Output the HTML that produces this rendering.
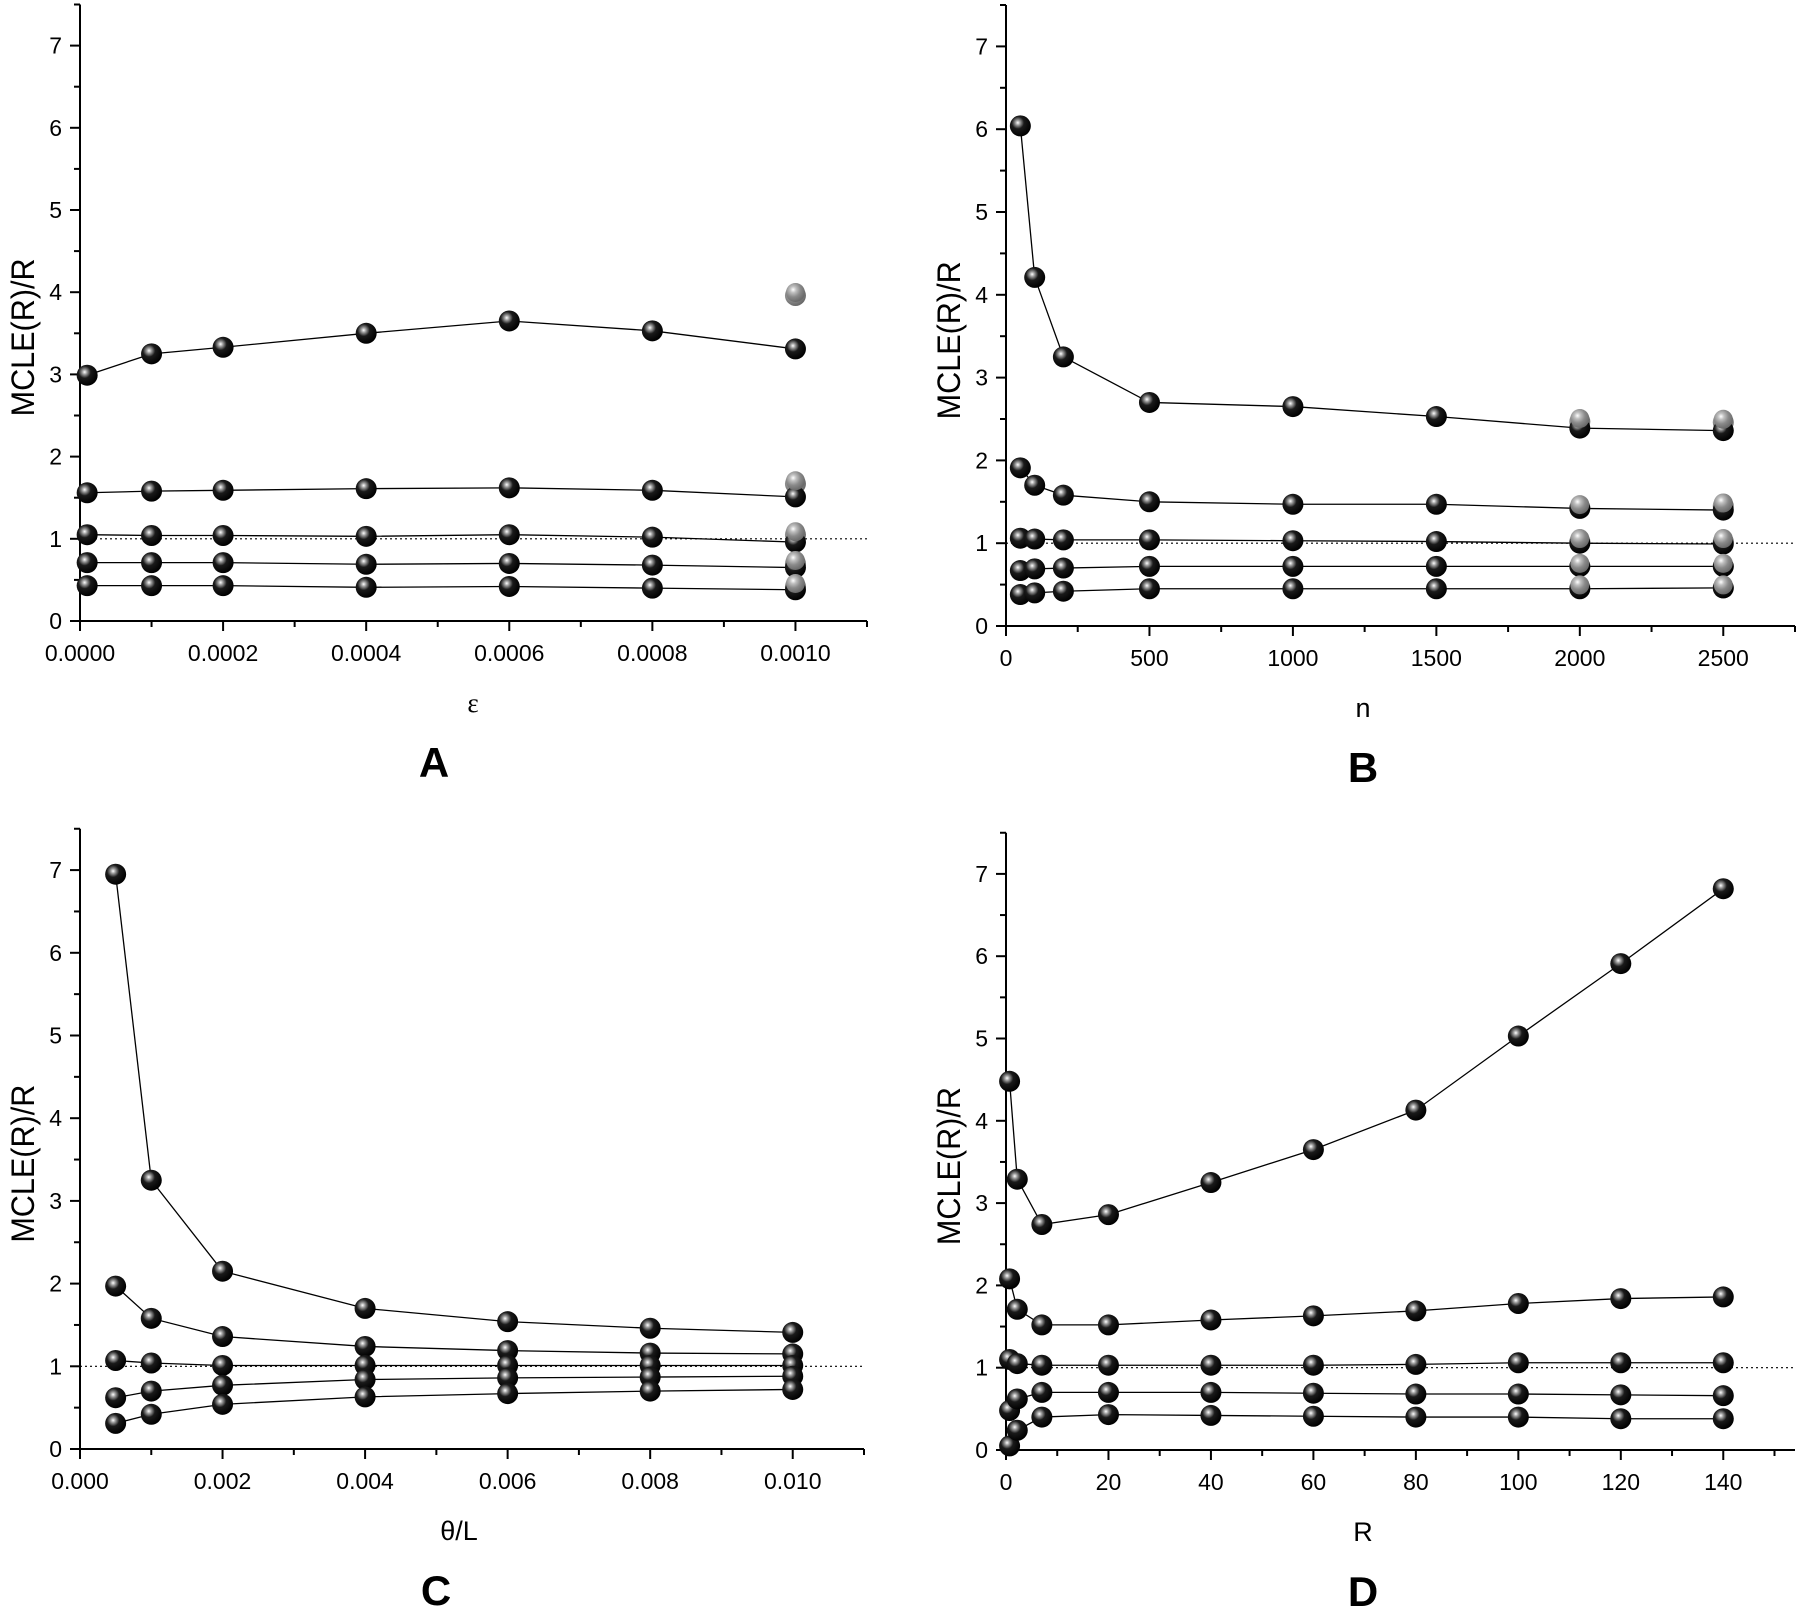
<!DOCTYPE html>
<html><head><meta charset="utf-8"><style>
html,body{margin:0;padding:0;background:#fff;}
svg{display:block;font-family:"Liberation Sans",sans-serif;}
</style></head><body>
<svg id="chart" width="1800" height="1610" viewBox="0 0 1800 1610">
<defs>
<radialGradient id="ball" cx="0.38" cy="0.35" r="0.65">
<stop offset="0" stop-color="#ffffff"/><stop offset="0.18" stop-color="#9a9a9a"/><stop offset="0.45" stop-color="#1a1a1a"/><stop offset="1" stop-color="#000"/>
</radialGradient>
<radialGradient id="gball" cx="0.38" cy="0.35" r="0.65">
<stop offset="0" stop-color="#ffffff"/><stop offset="0.25" stop-color="#c0c0c0"/><stop offset="0.6" stop-color="#8a8a8a"/><stop offset="1" stop-color="#6a6a6a"/>
</radialGradient>
</defs>
</svg>
<script>
// Panel A data
const aX = [0.00001,0.0001,0.0002,0.0004,0.0006,0.0008,0.001];
const aS1 = [2.99,3.25,3.33,3.50,3.65,3.53,3.31];
const aS2 = [1.56,1.58,1.59,1.61,1.62,1.59,1.51];
const aS3 = [1.05,1.04,1.04,1.03,1.05,1.02,0.96];
const aS4 = [0.71,0.71,0.71,0.69,0.70,0.68,0.65];
const aS5 = [0.43,0.43,0.43,0.41,0.42,0.40,0.38];
const aGrayX = [0.001,0.001,0.001,0.001,0.001];
const aGrayY = [3.96,1.67,1.05,0.70,0.42];
const aTicks = ["0.0000","0.0002","0.0004","0.0006","0.0008","0.0010"];
// Panel B data
const bX = [50,100,200,500,1000,1500,2000,2500];
const bS1 = [6.04,4.21,3.25,2.70,2.65,2.53,2.39,2.36];
const bS2 = [1.91,1.70,1.58,1.50,1.47,1.47,1.42,1.40];
const bS3 = [1.06,1.05,1.04,1.04,1.03,1.02,1.00,0.99];
const bS4 = [0.67,0.69,0.70,0.72,0.72,0.72,0.72,0.72];
const bS5 = [0.38,0.40,0.42,0.45,0.45,0.45,0.45,0.46];
const bGrayX = [2000,2500,2000,2500,2000,2500,2000,2500,2000,2500];
const bGrayY = [2.47,2.46,1.43,1.45,1.02,1.02,0.72,0.72,0.46,0.46];
const bTicks = ["0","500","1000","1500","2000","2500"];
// Panel C data
const cX = [0.0005,0.001,0.002,0.004,0.006,0.008,0.010];
const cS1 = [6.95,3.25,2.15,1.70,1.54,1.46,1.41];
const cS2 = [1.97,1.58,1.36,1.24,1.19,1.16,1.15];
const cS3 = [1.07,1.04,1.01,1.01,1.01,1.01,1.01];
const cS4 = [0.62,0.70,0.77,0.84,0.86,0.87,0.88];
const cS5 = [0.31,0.42,0.54,0.63,0.67,0.70,0.72];
const cTicks = ["0.000","0.002","0.004","0.006","0.008","0.010"];
// Panel D data
const dX = [0.7,2.2,7,20,40,60,80,100,120,140];
const dS1 = [4.48,3.29,2.74,2.86,3.25,3.65,4.13,5.03,5.91,6.82];
const dS2 = [2.08,1.71,1.52,1.52,1.58,1.63,1.69,1.78,1.84,1.86];
const dS3 = [1.10,1.05,1.03,1.03,1.03,1.03,1.04,1.06,1.06,1.06];
const dS4 = [0.48,0.62,0.70,0.70,0.70,0.69,0.68,0.68,0.67,0.66];
const dS5 = [0.05,0.24,0.40,0.43,0.42,0.41,0.40,0.40,0.38,0.38];
const dTicks = ["0","20","40","60","80","100","120","140"];
const yTicks = ["0","1","2","3","4","5","6","7"];

const svg = document.getElementById('chart');
const NS = 'http://www.w3.org/2000/svg';
function mk(tag, attrs, parent){
  const e = document.createElementNS(NS, tag);
  for (const k in attrs) e.setAttribute(k, attrs[k]);
  (parent||svg).appendChild(e);
  return e;
}

function panel(cfg){
  const g = mk('g', {});
  
  
  const sx = v => cfg.L + (v - 0) / cfg.xmax * (cfg.R - cfg.L);
  const sy = v => cfg.y0 - v * cfg.unit;
  const top = sy(7.5);
  const ref = mk('line', {x1: cfg.L, x2: cfg.R, y1: sy(1), y2: sy(1), stroke: '#000', 'stroke-width': 1.2, 'stroke-dasharray': '2,3'}, g);
  
  
  const ya = mk('line', {x1: cfg.L, x2: cfg.L, y1: top, y2: cfg.y0, stroke: '#000', 'stroke-width': 2}, g);
  
  
  const xa = mk('line', {x1: cfg.L, x2: cfg.R, y1: cfg.y0, y2: cfg.y0, stroke: '#000', 'stroke-width': 2}, g);
  
  
  for (let v = 0; v <= 7.5001; v += 0.5) {
    const maj = Math.abs(v - Math.round(v)) < 1e-6;
    mk('line', {x1: cfg.L - (maj ? 10 : 6), x2: cfg.L, y1: sy(v), y2: sy(v), stroke: '#000', 'stroke-width': 2}, g);
  }
  yTicks.forEach((t, i) => {
    const tx = mk('text', {x: cfg.L - 18, y: sy(i) + 8, 'text-anchor': 'end', 'font-size': 23}, g);
    tx.textContent = t;
    
    
  });
  for (let k = 0; k * cfg.minor <= cfg.xmax + 1e-12; k++) {
    const v = k * cfg.minor;
    const maj = k % 2 === 0;
    mk('line', {x1: sx(v), x2: sx(v), y1: cfg.y0, y2: cfg.y0 + (maj ? 10 : 6), stroke: '#000', 'stroke-width': 2}, g);
  }
  cfg.ticks.forEach((t, i) => {
    const tx = mk('text', {x: sx(i * cfg.minor * 2), y: cfg.y0 + 40, 'text-anchor': 'middle', 'font-size': 23}, g);
    tx.textContent = t;
    
    
  });
  const yt = mk('text', {x: 0, y: 0, 'text-anchor': 'middle', 'font-size': 32, textLength: 158, lengthAdjust: 'spacingAndGlyphs', transform: 'translate(' + (cfg.L - 46) + ',' + sy(3.45) + ') rotate(-90)'}, g);
  yt.textContent = 'MCLE(R)/R';
  
  
  const xt = mk('text', {x: cfg.titleX, y: cfg.y0 + 91, 'text-anchor': 'middle', 'font-size': 27, 'font-family': cfg.serif ? '"Liberation Serif", serif' : '"Liberation Sans", sans-serif'}, g);
  xt.textContent = cfg.xtitle;
  
  
  const lt = mk('text', {x: cfg.letterX, y: cfg.y0 + 156, 'text-anchor': 'middle', 'font-size': 42, 'font-weight': 'bold'}, g);
  lt.textContent = cfg.letter;
  
  
  cfg.series.forEach((ys, si) => {
    const pts = ys.map((v, i) => sx(cfg.x[i]) + ',' + sy(v)).join(' ');
    const pl = mk('polyline', {points: pts, fill: 'none', stroke: '#000', 'stroke-width': 1.3}, g);
    
    
  });
  if (cfg.gx) {
    cfg.gx.forEach((xv, i) => {
      const c = mk('circle', {cx: sx(xv), cy: sy(cfg.gy[i]), r: 10.5, fill: 'url(#gball)'}, g);
      
      
    });
  }
  cfg.series.forEach((ys, si) => {
    ys.forEach((v, i) => {
      const c = mk('circle', {cx: sx(cfg.x[i]), cy: sy(v), r: 10.5, fill: 'url(#ball)'}, g);
      
      
    });
  });
  if (cfg.gx && cfg.grayTop) {
    cfg.gx.forEach((xv, i) => {
      const c = mk('circle', {cx: sx(xv), cy: sy(cfg.gy[i]) - 3, r: 9.5, fill: 'url(#gball)'}, g);
      
      
    });
  }
}

panel({letter:'A', L:80, R:867, xmax:0.0011, minor:0.0001, y0:621, unit:82.2, x:aX, series:[aS1,aS2,aS3,aS4,aS5], gx:aGrayX, gy:aGrayY, grayTop:true, ticks:aTicks, xtitle:'ε', serif:true, titleX:473, letterX:434});
panel({letter:'B', L:1006, R:1795, xmax:2750, minor:250, y0:626, unit:82.8, x:bX, series:[bS1,bS2,bS3,bS4,bS5], gx:bGrayX, gy:bGrayY, grayTop:true, ticks:bTicks, xtitle:'n', titleX:1363, letterX:1363});
panel({letter:'C', L:80, R:864, xmax:0.011, minor:0.001, y0:1449, unit:82.7, x:cX, series:[cS1,cS2,cS3,cS4,cS5], ticks:cTicks, xtitle:'θ/L', titleX:459, letterX:436});
panel({letter:'D', L:1006, R:1795, xmax:154, minor:10, y0:1450, unit:82.3, x:dX, series:[dS1,dS2,dS3,dS4,dS5], ticks:dTicks, xtitle:'R', titleX:1363, letterX:1363});
</script>
</body></html>
